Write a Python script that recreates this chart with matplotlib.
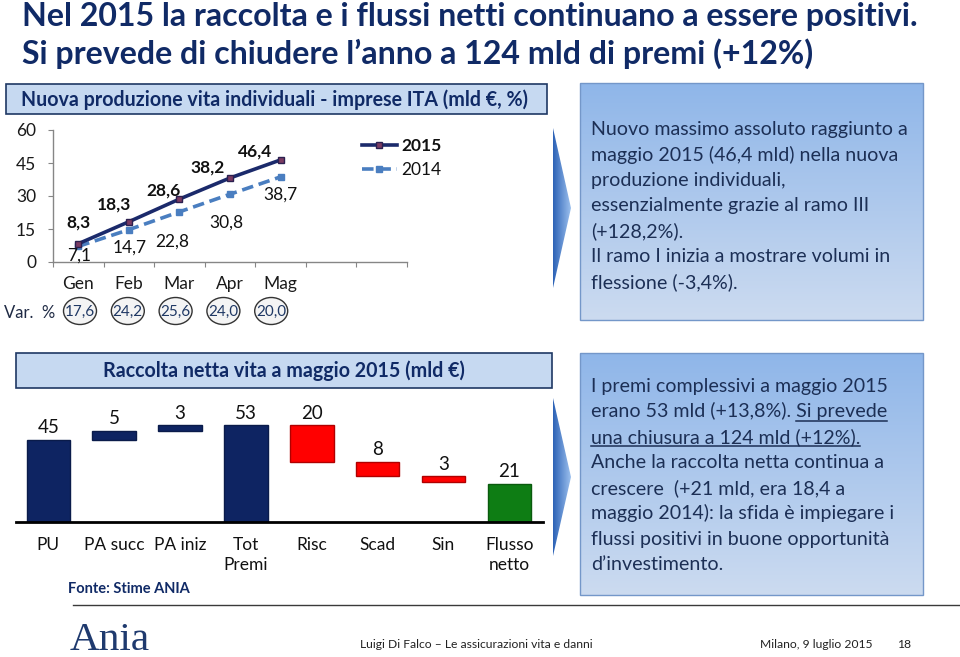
import numpy as np
import matplotlib
matplotlib.use("Agg")
import matplotlib.pyplot as plt
from matplotlib.patches import Rectangle, Ellipse, Polygon
from matplotlib.lines import Line2D
from matplotlib.colors import LinearSegmentedColormap

plt.rcParams['font.family'] = ['Lato', 'DejaVu Sans']

# ---------------- data ----------------
months = ["Gen", "Feb", "Mar", "Apr", "Mag"]
n_slots = 7
prod_2015 = [8.3, 18.3, 28.6, 38.2, 46.4]
prod_2014 = [7.1, 14.7, 22.8, 30.8, 38.7]
var_pct = [17.6, 24.2, 25.6, 24.0, 20.0]
y_ticks = [0, 15, 30, 45, 60]

wf_labels = ["PU", "PA succ", "PA iniz", "Tot\nPremi", "Risc", "Scad", "Sin", "Flusso\nnetto"]
wf_values = [45, 5, 3, 53, 20, 8, 3, 21]
wf_kind = ["total", "up", "up", "total", "down", "down", "down", "net"]

title1 = "Nel 2015 la raccolta e i flussi netti continuano a essere positivi."
title2 = "Si prevede di chiudere l\u2019anno a 124 mld di premi (+12%)"
head1 = "Nuova produzione vita individuali - imprese ITA (mld \u20ac, %)"
head2 = "Raccolta netta vita a maggio 2015 (mld \u20ac)"
box1_lines = ["Nuovo massimo assoluto raggiunto a",
              "maggio 2015 (46,4 mld) nella nuova",
              "produzione individuali,",
              "essenzialmente grazie al ramo III",
              "(+128,2%).",
              "Il ramo I inizia a mostrare volumi in",
              "flessione (-3,4%)."]
box2_lines = ["I premi complessivi a maggio 2015",
              "erano 53 mld (+13,8%). Si prevede",
              "una chiusura a 124 mld (+12%).",
              "Anche la raccolta netta continua a",
              "crescere  (+21 mld, era 18,4 a",
              "maggio 2014): la sfida \u00e8 impiegare i",
              "flussi positivi in buone opportunit\u00e0",
              "d\u2019investimento."]

# ---------------- layout helpers ----------------
W, H = 960, 657
fig = plt.figure(figsize=(9.6, 6.57), dpi=100, facecolor='white')
ov = fig.add_axes([0, 0, 1, 1])
ov.axis('off')
R = fig.canvas.get_renderer()

NAVY = '#102A66'
TXT = '#1C2F55'

def fax(x0, y0, x1, y1):
    return fig.add_axes([x0 / W, 1 - y1 / H, (x1 - x0) / W, (y1 - y0) / H])

def wpx(t):
    return t.get_window_extent(R).width

def fit(t, w):
    t.set_fontsize(t.get_fontsize() * w / wpx(t))
    return t.get_fontsize()

def grad_rect(x0, y0, x1, y1, c_top, c_bot, vertical=True, clip=None):
    cmap = LinearSegmentedColormap.from_list('g', [c_top, c_bot])
    g = np.linspace(0, 1, 256)
    arr = g[:, None] if vertical else g[None, :]
    im = ov.imshow(arr, extent=[x0, x1, y1, y0], cmap=cmap, aspect='auto',
                   origin='upper', zorder=1, interpolation='bilinear')
    if clip is not None:
        im.set_clip_path(clip)
    return im

# ---------------- titles ----------------
t1 = ov.text(22, 26, title1, fontsize=20, fontweight='bold', color=NAVY, va='baseline')
fs = fit(t1, 898)
t2 = ov.text(22, 64, title2, fontsize=fs, fontweight='bold', color=NAVY, va='baseline')

# ---------------- header boxes ----------------
ov.add_patch(Rectangle((6, 84), 541, 30, fc='#C6D9F1', ec='#1F3864', lw=1.2, zorder=2))
h1 = ov.text(21, 99.5, head1, fontsize=14, fontweight='bold', color=NAVY, va='center', zorder=3)
fit(h1, 508)
ov.add_patch(Rectangle((16, 353), 536, 35, fc='#C6D9F1', ec='#1F3864', lw=1.2, zorder=2))
h2 = ov.text(284, 371, head2, fontsize=14, fontweight='bold', color=NAVY, va='center',
             ha='center', zorder=3)
fit(h2, 364)

# ---------------- chevrons ----------------
for (top, bot) in [(128, 288), (398, 556)]:
    poly = Polygon([(553, top), (571, (top + bot) / 2), (553, bot)], closed=True,
                   fc='none', ec='none', transform=ov.transData)
    ov.add_patch(poly)
    grad_rect(553, top, 571, bot, '#2C62B6', '#9CC0EE', vertical=False, clip=poly)

# ---------------- text boxes ----------------
for (y0, y1) in [(83, 320), (353, 595)]:
    grad_rect(580, y0, 923, y1, '#8FB6E9', '#CCDBF0', vertical=True)
    ov.add_patch(Rectangle((580, y0), 343, y1 - y0, fc='none', ec='#7497C9', lw=1, zorder=2))

tb = ov.text(591, 135, box1_lines[0], fontsize=13.5, color=TXT, va='baseline', zorder=3)
bfs = fit(tb, 318)
for k, s in enumerate(box1_lines[1:], start=1):
    ov.text(591, 135 + 25.5 * k, s, fontsize=bfs, color=TXT, va='baseline', zorder=3)

tb2 = ov.text(591, 392, box2_lines[0], fontsize=bfs, color=TXT, va='baseline', zorder=3)
fit(tb2, 296)
bfs2 = tb2.get_fontsize()
lines2 = []
for k, s in enumerate(box2_lines[1:], start=1):
    lines2.append(ov.text(591, 392 + 25.5 * k, s, fontsize=bfs2, color=TXT,
                          va='baseline', zorder=3))
# underlines
full_w = wpx(lines2[0])
tmp = ov.text(0, 0, "Si prevede", fontsize=bfs2)
part_w = wpx(tmp)
tmp.remove()
yl = 392 + 25.5 * 1 + 3
ov.add_line(Line2D([591 + full_w - part_w, 591 + full_w], [yl, yl], color=TXT, lw=1.1, zorder=3))
w3 = wpx(lines2[1])
yl = 392 + 25.5 * 2 + 3
ov.add_line(Line2D([591, 591 + w3], [yl, yl], color=TXT, lw=1.1, zorder=3))

# ---------------- line chart ----------------
lc = fax(53, 130, 407, 262)
lc.set_facecolor('none')
x = np.arange(len(months))
l14, = lc.plot(x, prod_2014, ls=(0, (3.2, 1.6)), color='#4A7EC0', lw=2.6, marker='s', ms=5,
               mfc='#4A7EC0', mec='#4A7EC0', label='2014', zorder=3)
l15, = lc.plot(x, prod_2015, color='#1B2A6B', lw=2.6, marker='s', ms=5,
               mfc='#7B3B62', mec='#2B2050', label='2015', zorder=4)
lc.set_xlim(-0.5, n_slots - 0.5)
lc.set_ylim(y_ticks[0], y_ticks[-1])
lc.set_yticks(y_ticks)
lc.set_yticklabels([str(v) for v in y_ticks])
lc.set_xticks(np.arange(-0.5, n_slots, 1.0))
lc.set_xticklabels([])
lc.set_xticks(x, minor=True)
lc.set_xticklabels(months, minor=True)
for sp in ['top', 'right']:
    lc.spines[sp].set_visible(False)
for sp in ['left', 'bottom']:
    lc.spines[sp].set_color('#868686')
    lc.spines[sp].set_linewidth(1)
lc.tick_params(axis='y', which='major', length=3.6, pad=8.5, color='#868686',
               labelsize=12.5, labelcolor='#1a1a1a')
lc.tick_params(axis='x', which='major', length=3.6, color='#868686')
lc.tick_params(axis='x', which='minor', length=0, pad=10, labelsize=12.5, labelcolor='#1a1a1a')

off15 = [(0, 21), (-15, 17), (-16, 9), (-22, 10), (-25, 8)]
off14 = [(1, -9), (1, -18), (-7, -30), (-4, -28), (0, -18)]
fmt = lambda v: f"{v:.1f}".replace('.', ',')
for i, v in enumerate(prod_2015):
    lc.annotate(fmt(v), (i, v), xytext=off15[i], textcoords='offset pixels', ha='center',
                va='center', fontsize=12.5, fontweight='bold', color='#111111',
                annotation_clip=False)
for i, v in enumerate(prod_2014):
    lc.annotate(fmt(v), (i, v), xytext=off14[i], textcoords='offset pixels', ha='center',
                va='center', fontsize=12.5, color='#111111', annotation_clip=False)

leg = lc.legend(handles=[l15, l14], loc='upper left', bbox_to_anchor=(362 / W, 1 - 138 / H),
                bbox_transform=fig.transFigure, frameon=False, fontsize=12.5,
                handlelength=2.0, handletextpad=0.25, labelspacing=0.45,
                borderpad=0, borderaxespad=0)
leg.get_texts()[0].set_fontweight('bold')
for t in leg.get_texts():
    t.set_color('#111111')

# Var % row
ov.text(4, 313, "Var.  %", fontsize=12, color='#1F2A44', va='center', zorder=3)
for i, v in enumerate(var_pct):
    cx = 80 + 47.8 * i
    ov.add_patch(Ellipse((cx, 311), 33, 27, fc='#F4F4F4', ec='#333333', lw=1, zorder=2))
    ov.text(cx, 312, fmt(v), fontsize=11, color='#1F3864', ha='center', va='center', zorder=3)

# ---------------- waterfall ----------------
wf = fax(16, 400, 543, 522)
wf.set_facecolor('none')
bottoms, heights, fcs, ecs = [], [], [], []
run = 0
for v, k in zip(wf_values, wf_kind):
    if k == 'total':
        b = 0
        run = v
        fc, ec = '#0E2462', '#0A1B4A'
    elif k == 'net':
        b = 0
        fc, ec = '#0E7D14', '#0A5A0E'
    elif k == 'up':
        b = run
        run += v
        fc, ec = '#0E2462', '#0A1B4A'
    else:
        run -= v
        b = run
        fc, ec = '#FF0000', '#B00000'
    bottoms.append(b); heights.append(v); fcs.append(fc); ecs.append(ec)
xi = np.arange(len(wf_values))
wf.bar(xi, heights, bottom=bottoms, width=0.66, color=fcs, edgecolor=ecs, lw=1, zorder=2)
for i in xi:
    wf.annotate(str(wf_values[i]), (i, bottoms[i] + heights[i]), xytext=(0, 2.5),
                textcoords='offset points', ha='center', va='bottom', fontsize=13.5,
                color='#111111', annotation_clip=False)
wf.set_xlim(-0.49, len(wf_values) - 0.49)
wf.set_ylim(0, 122 / 1.83)
for sp in ['top', 'right', 'left']:
    wf.spines[sp].set_visible(False)
wf.spines['bottom'].set_color('black')
wf.spines['bottom'].set_linewidth(2)
wf.set_yticks([])
wf.set_xticks(xi)
wf.set_xticklabels(wf_labels, fontsize=12.5, color='#111111', linespacing=1.25)
wf.tick_params(axis='x', length=0, pad=11)

ov.text(68, 589, "Fonte: Stime ANIA", fontsize=10.5, fontweight='bold', color=NAVY,
        va='center', zorder=3)
ov.add_line(Line2D([73, 960], [605, 605], color='#3A3A3A', lw=1, zorder=2))

# ---------------- footer ----------------
logo = ov.text(70, 640, "Ania", family=['Liberation Serif', 'DejaVu Serif'], fontsize=26,
               color='#1F3A6E', va='center', zorder=3)
fit(logo, 80)
f1 = ov.text(360, 645, "Luigi Di Falco \u2013 Le assicurazioni vita e danni", fontsize=10,
             color='#222222', va='center', zorder=3)
fit(f1, 232)
f2 = ov.text(760, 645, "Milano, 9 luglio 2015", fontsize=10, color='#222222', va='center', zorder=3)
fit(f2, 113)
ov.text(897, 645, "18", fontsize=f2.get_fontsize(), color='#222222', va='center', zorder=3)

ov.set_xlim(0, W)
ov.set_ylim(H, 0)

fig.savefig('out.png', dpi=100, facecolor='white')
